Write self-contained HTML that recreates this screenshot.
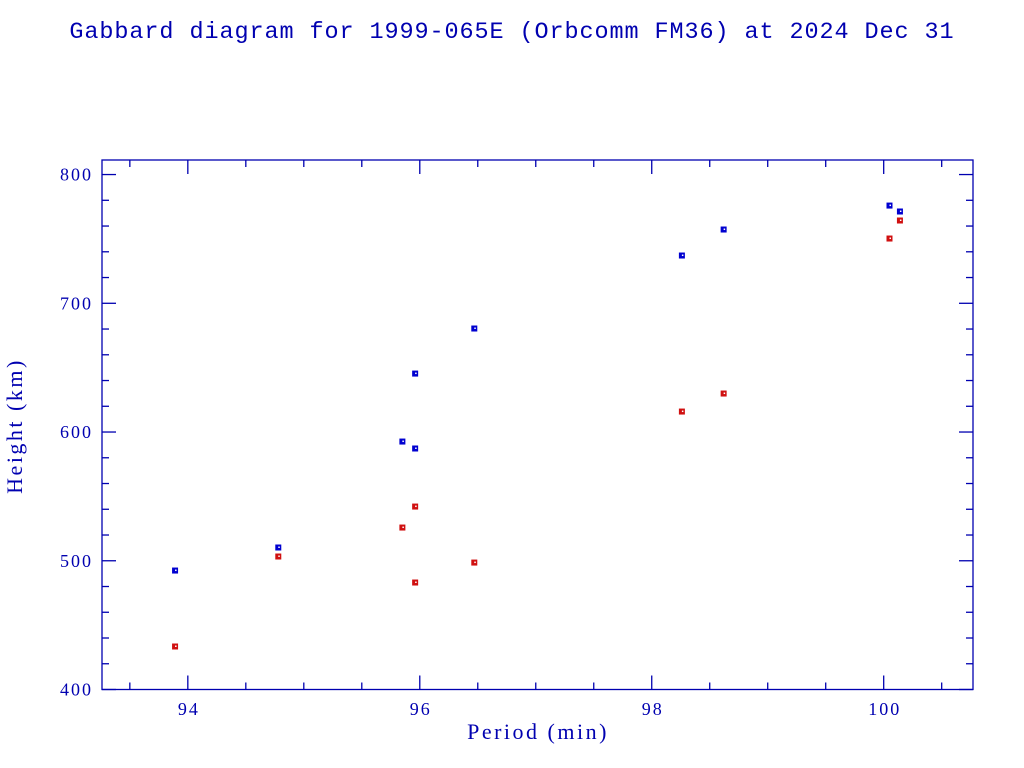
<!DOCTYPE html>
<html><head><meta charset="utf-8"><style>
html,body{margin:0;padding:0;background:#fff;}
svg{display:block;}
text{font-family:"Liberation Serif",serif;fill:#0000b0;}
</style></head><body>
<svg id="chart" width="1024" height="768" xmlns="http://www.w3.org/2000/svg">
<text x="512" y="38" text-anchor="middle" style="font-family:'Liberation Mono',monospace" font-size="23.5" letter-spacing="0.9">Gabbard diagram for 1999-065E (Orbcomm FM36) at 2024 Dec 31</text>
<rect x="102" y="160" width="871" height="529.5" fill="none" stroke="#0000b0" stroke-width="1.3"/>
<g id="ticks"></g>
<g id="labels"></g>
<g id="marks"></g>
<text x="538" y="739" text-anchor="middle" font-size="22" letter-spacing="2.5">Period (min)</text>
<text x="22" y="426" text-anchor="middle" font-size="22" letter-spacing="2.5" transform="rotate(-90 22 426)">Height (km)</text>
</svg>
<script>
const periods = [93.89, 94.78, 95.85, 95.96, 95.96, 96.47, 98.26, 98.62, 100.05, 100.14];
const apogees = [492.4, 510.3, 592.6, 645.4, 587.2, 680.4, 737.1, 757.3, 775.9, 771.3];
const perigees = [433.4, 503.3, 525.8, 542.1, 483.1, 498.6, 615.9, 629.9, 750.3, 764.3];
const xTicks = [94, 96, 98, 100];
const yTicks = [400, 500, 600, 700, 800];

const NS = "http://www.w3.org/2000/svg";
const L = 102, R = 973, T = 160, B = 689.5;
const xMin = 93.26, xMax = 100.77, yMin = 400, yMax = 811.3;
const X = v => L + (v - xMin) / (xMax - xMin) * (R - L);
const Y = v => B - (v - yMin) / (yMax - yMin) * (B - T);
function mk(tag, attrs, parent){const e=document.createElementNS(NS,tag);for(const k in attrs)e.setAttribute(k,attrs[k]);parent.appendChild(e);return e;}
const tg = document.getElementById('ticks'), lg = document.getElementById('labels'), mg = document.getElementById('marks');
const C = '#0000b0';
for (let v = 93.5; v <= xMax; v += 0.5) {
  const major = Math.abs(v - Math.round(v)) < 1e-6 && Math.round(v) % 2 === 0;
  const len = major ? 14 : 7, x = X(v);
  const a = mk('line',{x1:x,x2:x,y1:B,y2:B-len,stroke:C,'stroke-width':1.3},tg);
  
  
  const b = mk('line',{x1:x,x2:x,y1:T,y2:T+len,stroke:C,'stroke-width':1.3},tg);
  
  
}
for (let v = 400; v <= yMax; v += 20) {
  const major = v % 100 === 0;
  const len = major ? 14 : 7, y = Y(v);
  const a = mk('line',{x1:L,x2:L+len,y1:y,y2:y,stroke:C,'stroke-width':1.3},tg);
  
  
  const b = mk('line',{x1:R,x2:R-len,y1:y,y2:y,stroke:C,'stroke-width':1.3},tg);
  
  
}
xTicks.forEach(v => {
  const t = mk('text',{x:X(v)+1,y:715,'text-anchor':'middle','font-size':18,'letter-spacing':2},lg);
  t.textContent = v;
  
  
});
yTicks.forEach(v => {
  const t = mk('text',{x:93,y:Y(v)+6,'text-anchor':'end','font-size':18,'letter-spacing':2},lg);
  t.textContent = v;
  
  
});
function pt(p, h, color, name){
  const x = X(p), y = Y(h);
  const r = mk('rect',{x:x-3,y:y-3,width:6,height:6,fill:color},mg);
  
  
  mk('rect',{x:x,y:y-1,width:1.5,height:1.5,fill:'#fff'},mg);
}
periods.forEach((p,i) => {
  pt(p, perigees[i], '#d01010', 'perigee-point');
  pt(p, apogees[i], '#0000d0', 'apogee-point');
});
</script>
</body></html>
